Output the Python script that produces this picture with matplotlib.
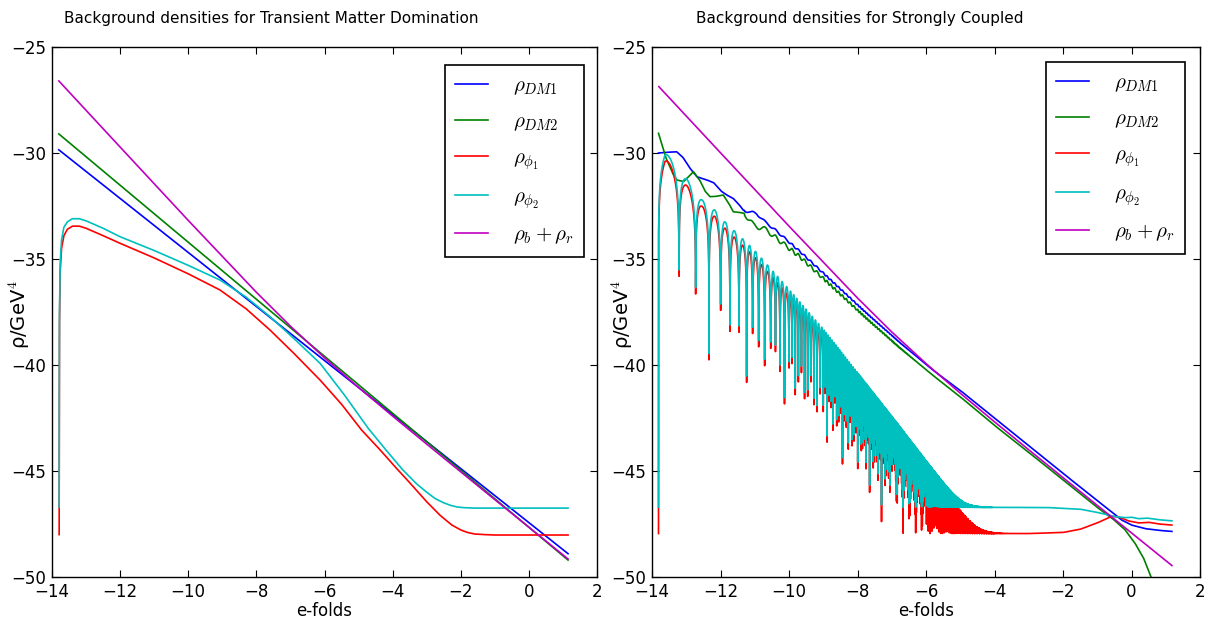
import numpy as np
import matplotlib
matplotlib.use('Agg')
import matplotlib.pyplot as plt

plt.rcParams['mathtext.fontset'] = 'cm'
plt.rcParams['font.family'] = 'DejaVu Sans'

# ---------------- Left panel: Transient Matter Domination ----------------
L_lin_x = [-13.8, 1.15]
L_dm1 = [-29.85, -48.9]
L_dm2 = [-29.1, -49.2]
L_br_x = [-13.8, -12, -10, -8, -7, -6, -5, -4, -3, -2, -1, 0, 1.15]
L_br = [-26.60, -29.72, -33.18, -36.57, -38.17, -39.66, -41.06, -42.41, -43.73, -45.04,
        -46.35, -47.65, -49.15]

L_phi1_x = [-13.79, -13.785, -13.78, -13.76, -13.72, -13.65, -13.55, -13.4, -13.2, -13.0, -12.5,
            -12.0, -11.0, -10.0, -9.07, -8.3, -7.6, -6.9, -6.13, -5.5, -4.91, -4.37, -3.9,
            -3.5, -3.0, -2.6, -2.26, -2.0, -1.8, -1.6, -1.3, -1.0, 0.0, 1.15]
L_phi1_y = [-48.0, -42.0, -38.0, -35.6, -34.5, -33.9, -33.6, -33.45, -33.45, -33.55, -33.9,
            -34.26, -34.95, -35.7, -36.46, -37.35, -38.35, -39.45, -40.71, -41.85, -43.07, -44.0, -44.85,
            -45.55, -46.45, -47.1, -47.55, -47.78, -47.9, -47.97, -48.0, -48.02, -48.02, -48.02]
L_phi2_x = [-13.79, -13.785, -13.78, -13.76, -13.72, -13.65, -13.55, -13.4, -13.2, -13.0, -12.5,
            -12.0, -11.0, -10.0, -9.07, -8.3, -7.6, -6.9, -6.13, -5.4, -4.71, -4.2, -3.7,
            -3.3, -3.0, -2.75, -2.5, -2.3, -2.1, -1.9, -1.6, -1.0, 0.0, 1.15]
L_phi2_y = [-46.7, -41.0, -37.5, -35.2, -34.1, -33.5, -33.25, -33.1, -33.1, -33.2, -33.55,
            -33.95, -34.6, -35.3, -35.99, -36.8, -37.72, -38.75, -39.92, -41.45, -43.0, -44.0, -44.95,
            -45.6, -46.0, -46.3, -46.5, -46.62, -46.7, -46.73, -46.75, -46.75, -46.75, -46.75]

# ---------------- Right panel: Strongly Coupled ----------------
R_br_x = [-13.8, -12, -10, -8, -7, -6, -5, -4, -3, -2, -1, 0, 1.18]
R_br = [-26.87, -29.99, -33.45, -36.84, -38.44, -39.93, -41.33, -42.68, -44.0, -45.31,
        -46.62, -47.92, -49.46]

R_dm1_x = [-13.81, -13.6, -13.28, -13.1, -12.9, -12.69, -12.4, -12.2, -11.98, -11.82, -11.63,
           -11.45, -11.34, -11.1, -10.95, -10.7, -10.46, -9.68, -8.71, -7.74, -6.76, -5.79,
           -5.0, -4.0, -3.0, -2.0, -1.0, -0.6, -0.3, 0.0, 0.4, 0.8, 1.18]
R_dm1 = [-30.0, -29.97, -29.94, -30.2, -30.7, -31.12, -31.27, -31.4, -31.8, -31.98, -32.14,
         -32.45, -32.69, -32.8, -32.85, -33.25, -33.55, -34.65, -36.1, -37.55, -38.95, -40.25,
         -41.2, -42.5, -43.8, -45.11, -46.4, -46.9, -47.3, -47.55, -47.72, -47.8, -47.85]

R_dm2_x = [-13.81, -13.6, -13.4, -13.28, -13.08, -12.95, -12.79, -12.6, -12.45, -12.31, -12.15,
           -11.92, -11.75, -11.63, -11.45, -11.3, -11.04, -10.65, -10.46, -9.68, -8.71, -7.74,
           -6.76, -5.79, -5.0, -4.0, -3.0, -2.0, -1.0, -0.55, -0.2, 0.1, 0.35, 0.62]
R_dm2 = [-29.07, -30.2, -30.95, -31.27, -31.35, -31.15, -30.88, -31.3, -31.8, -32.06, -32.05,
         -31.98, -32.4, -32.77, -32.8, -32.85, -33.4, -33.63, -33.9, -34.9, -36.35, -37.8,
         -39.2, -40.5, -41.5, -42.85, -44.12, -45.42, -46.72, -47.25, -47.75, -48.4, -49.1, -50.2]

# small ripples on the dark-matter curves while the fields oscillate
R_ripple_x = [-11.3, -10.0, -9.0, -8.0, -7.0, -6.0]
R_dm1_ripple = [0.06, 0.05, 0.04, 0.03, 0.015, 0.0]
R_dm2_ripple = [0.12, 0.10, 0.07, 0.05, 0.03, 0.0]

# oscillating scalar fields: envelope, dip count anchors, late-time floor
R_env_x = [-13.81, -13.62, -13.0, -12.55, -12.16, -11.87, -11.0, -10.07, -9.0, -8.0, -7.0,
           -6.0, -5.0, -4.0, 1.2]
R_env_phi2 = [-30.3, -29.94, -31.2, -32.2, -32.7, -33.24, -34.6, -36.3, -38.3, -40.35, -42.4,
              -44.5, -46.6, -48.7, -60.0]
R_env_offset_phi1 = 0.3

R_dip_x = [-13.81, -13.21, -12.725, -12.336, -11.996, -11.723, -11.46, -11.237, -10.5, -10.0,
           -9.0, -8.0, -7.0, -6.0, -5.0, -4.0, 1.2]
R_dip_n = [0, 1, 2, 3, 4, 5, 6, 7, 11.2, 15.0, 26.0, 43.8, 72.6, 119, 194, 315, 600]

R_phi1_tail_x = [-13.81, -3.0, -2.0, -1.5, -1.0, -0.6, -0.4, -0.1, 0.2, 0.5, 0.8, 1.18]
R_phi1_tail = [-47.95, -47.95, -47.9, -47.75, -47.45, -47.15, -47.15, -47.35, -47.45, -47.42, -47.5, -47.55]
R_phi2_tail_x = [-13.81, -2.5, -1.5, -1.0, -0.5, -0.2, 0.0, 0.2, 0.45, 0.8, 1.18]
R_phi2_tail = [-46.7, -46.72, -46.8, -46.95, -47.15, -47.2, -47.18, -47.25, -47.22, -47.3, -47.35]

# ---------------- drawing ----------------
fig = plt.figure(figsize=(12.14, 6.23), dpi=100)
axL = fig.add_axes([52 / 1214, 46 / 623, 545 / 1214, 530 / 623])
axR = fig.add_axes([652 / 1214, 46 / 623, 548 / 1214, 530 / 623])

lw = 1.2
cB, cG, cR, cC, cM = (0, 0, 1), (0, 0.5, 0), (1, 0, 0), (0, 0.75, 0.75), (0.75, 0, 0.75)

axL.plot(L_lin_x, L_dm1, color=cB, lw=lw, label=r'$\rho_{DM1}$')
axL.plot(L_lin_x, L_dm2, color=cG, lw=lw, label=r'$\rho_{DM2}$')
axL.plot(L_phi1_x, L_phi1_y, color=cR, lw=lw, label=r'$\rho_{\phi_1}$')
axL.plot(L_phi2_x, L_phi2_y, color=cC, lw=lw, label=r'$\rho_{\phi_2}$')
axL.plot(L_br_x, L_br, color=cM, lw=lw, label=r'$\rho_b+\rho_r$')

# right panel: curves sampled on an integration-like grid
xs = np.arange(-13.81, 1.18, 0.00213)
phase = np.pi / 2 + np.pi * np.interp(xs, R_dip_x, R_dip_n)
envC = np.interp(xs, R_env_x, R_env_phi2)
envR = envC - R_env_offset_phi1
floorC = np.interp(xs, R_phi2_tail_x, R_phi2_tail)
floorR = np.interp(xs, R_phi1_tail_x, R_phi1_tail)
c2 = np.cos(phase) ** 2
yC = np.log10(10.0 ** (envC + 47) * c2 + 10.0 ** (floorC + 47)) - 47
yR = np.log10(10.0 ** (envR + 47) * c2 + 10.0 ** (floorR + 47)) - 47

xs1 = xs[xs <= R_dm1_x[-1]]
xs2 = xs[xs <= R_dm2_x[-1]]
ph1 = phase[:len(xs1)]
ph2 = phase[:len(xs2)]
yB = np.interp(xs1, R_dm1_x, R_dm1) + np.interp(xs1, R_ripple_x, R_dm1_ripple, left=0, right=0) * np.sin(ph1)
yG = np.interp(xs2, R_dm2_x, R_dm2) + np.interp(xs2, R_ripple_x, R_dm2_ripple, left=0, right=0) * np.sin(ph2)

axR.plot(xs1, yB, color=cB, lw=lw, label=r'$\rho_{DM1}$')
axR.plot(xs2, yG, color=cG, lw=lw, label=r'$\rho_{DM2}$')
axR.plot(xs, yR, color=cR, lw=lw, label=r'$\rho_{\phi_1}$')
axR.plot(xs, yC, color=cC, lw=lw, label=r'$\rho_{\phi_2}$')
axR.plot(R_br_x, R_br, color=cM, lw=lw, label=r'$\rho_b+\rho_r$')

titles = ['Background densities for Transient Matter Domination',
          'Background densities for Strongly Coupled']
title_x = [0.403, 0.38]
leg_anchor = [(0.976, 0.966), (0.9726, 0.9717)]
ylab_x = [-0.036, -0.031]
for ax, t, tx, la, yx in zip([axL, axR], titles, title_x, leg_anchor, ylab_x):
    ax.set_xlim(-14, 2)
    ax.set_ylim(-50, -25)
    ax.set_xticks(np.arange(-14, 3, 2))
    ax.set_yticks(np.arange(-50, -24, 5))
    ax.tick_params(direction='in', top=True, right=True, labelsize=12, length=5, width=0.8, pad=4)
    ax.set_xlabel('e-folds', fontsize=12, labelpad=1)
    ax.set_ylabel(r'ρ/GeV$^4$', fontsize=14)
    ax.yaxis.set_label_coords(yx, 0.495)
    ax.set_title(t, fontsize=11, x=tx, pad=17)
    for s in ax.spines.values():
        s.set_linewidth(1.0)
    leg = ax.legend(loc='upper right', bbox_to_anchor=la, borderaxespad=0, fontsize=15,
                    fancybox=False, edgecolor='black', framealpha=1, labelspacing=0.68,
                    handlelength=1.55, handletextpad=1.2, borderpad=0.5)
    leg.get_frame().set_linewidth(1.2)

fig.savefig('out.png', dpi=100)
